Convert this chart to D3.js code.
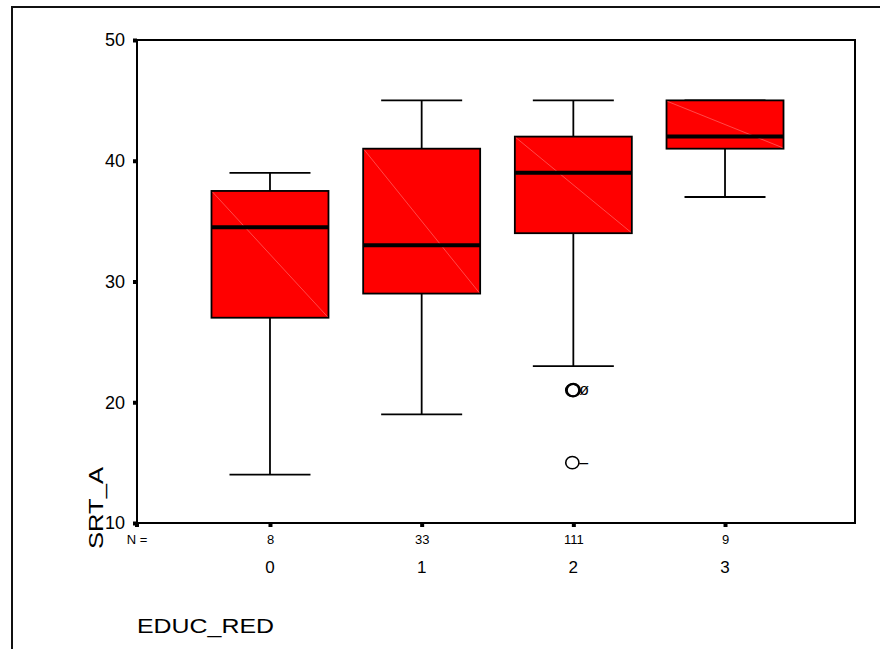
<!DOCTYPE html>
<html>
<head>
<meta charset="utf-8">
<script src="https://cdn.jsdelivr.net/npm/d3@7"></script>
<style>
  body { margin: 0; background: #fff; }
  text { font-family: "Liberation Sans", Arial, sans-serif; fill: #000; }
</style>
</head>
<body>
<div id="chart"></div>
<script>
// box plot values (SRT_A by EDUC_RED)
const categories = ["0", "1", "2", "3"];
const counts = [8, 33, 111, 9];
const whiskerLow = [14, 19, 23, 37];
const q1 = [27, 29, 34, 41];
const median = [34.5, 33, 39, 42];
const q3 = [37.5, 41, 42, 45];
const whiskerHigh = [39, 45, 45, 45];
const outlierCategory = ["2", "2", "2"];
const outlierValue = [21, 21, 15];
const outlierLabel = ["", "\u00f8", "\u2013"];
const yTicks = [10, 20, 30, 40, 50];

const width = 880, height = 649;
const plot = { left: 137, top: 40, right: 855, bottom: 523 };
const boxWidth = 117, capWidth = 81;

const svg = d3.select("#chart").append("svg")
  .attr("width", width)
  .attr("height", height);

// outer frame (runs past the page on the right and bottom)
svg.append("rect")
  .attr("x", 12).attr("y", 7)
  .attr("width", 900).attr("height", 700)
  .attr("fill", "none").attr("stroke", "#111").attr("stroke-width", 2);

const x = d3.scalePoint()
  .domain(categories)
  .range([140, plot.right])
  .padding(0.857);

const y = d3.scaleLinear()
  .domain([10, 50])
  .range([plot.bottom, plot.top]);

// y axis with square tick marks
const yAxis = svg.append("g")
  .attr("transform", `translate(${plot.left},0)`)
  .call(d3.axisLeft(y).tickValues(yTicks).tickSize(4).tickPadding(8));
yAxis.select(".domain").remove();
yAxis.selectAll("line").attr("stroke", "#000").attr("stroke-width", 4);
yAxis.selectAll("text").style("font-size", "18px").attr("font-family", null);

// x axis: N counts under square ticks
const xAxis = svg.append("g")
  .attr("transform", `translate(0,${plot.bottom})`)
  .call(d3.axisBottom(x).tickSize(4).tickPadding(8)
    .tickFormat((d, i) => counts[i]));
xAxis.select(".domain").remove();
xAxis.selectAll("line").attr("stroke", "#000").attr("stroke-width", 4);
xAxis.selectAll("text").style("font-size", "13px").attr("font-family", null);

// corner tick + "N ="
svg.append("rect")
  .attr("x", plot.left - 2).attr("y", plot.bottom)
  .attr("width", 4).attr("height", 4).attr("fill", "#000");
svg.append("text")
  .attr("x", plot.left).attr("y", 544)
  .attr("text-anchor", "middle")
  .style("font-size", "13px")
  .text("N =");

// category labels
svg.selectAll(".cat")
  .data(categories)
  .enter().append("text")
  .attr("class", "cat")
  .attr("x", d => x(d))
  .attr("y", 573)
  .attr("text-anchor", "middle")
  .style("font-size", "17px")
  .text(d => d);

// plot frame
svg.append("rect")
  .attr("x", plot.left).attr("y", plot.top)
  .attr("width", plot.right - plot.left)
  .attr("height", plot.bottom - plot.top)
  .attr("fill", "none").attr("stroke", "#000").attr("stroke-width", 2);

// boxes
const boxes = svg.selectAll(".box")
  .data(categories)
  .enter().append("g")
  .attr("class", "box");

boxes.append("line")
  .attr("x1", d => x(d)).attr("x2", d => x(d))
  .attr("y1", (d, i) => y(whiskerLow[i])).attr("y2", (d, i) => y(q1[i]))
  .attr("stroke", "#000").attr("stroke-width", 1.8);
boxes.append("line")
  .attr("x1", d => x(d)).attr("x2", d => x(d))
  .attr("y1", (d, i) => y(whiskerHigh[i])).attr("y2", (d, i) => y(q3[i]))
  .attr("stroke", "#000").attr("stroke-width", 1.8);
boxes.append("line")
  .attr("x1", d => x(d) - capWidth / 2).attr("x2", d => x(d) + capWidth / 2)
  .attr("y1", (d, i) => y(whiskerLow[i])).attr("y2", (d, i) => y(whiskerLow[i]))
  .attr("stroke", "#000").attr("stroke-width", 1.8);
boxes.append("line")
  .attr("x1", d => x(d) - capWidth / 2).attr("x2", d => x(d) + capWidth / 2)
  .attr("y1", (d, i) => y(whiskerHigh[i])).attr("y2", (d, i) => y(whiskerHigh[i]))
  .attr("stroke", "#000").attr("stroke-width", 1.8);

boxes.append("rect")
  .attr("x", d => x(d) - boxWidth / 2)
  .attr("y", (d, i) => y(q3[i]))
  .attr("width", boxWidth)
  .attr("height", (d, i) => y(q1[i]) - y(q3[i]))
  .attr("fill", "#ff0000")
  .attr("stroke", "#000").attr("stroke-width", 1.8);

// faint diagonal artifact across each box
boxes.append("line")
  .attr("x1", d => x(d) - boxWidth / 2 + 1).attr("y1", (d, i) => y(q3[i]) + 1)
  .attr("x2", d => x(d) + boxWidth / 2 - 1).attr("y2", (d, i) => y(q1[i]) - 1)
  .attr("stroke", "#ff7a7a").attr("stroke-width", 0.6);

boxes.append("line")
  .attr("x1", d => x(d) - boxWidth / 2).attr("x2", d => x(d) + boxWidth / 2)
  .attr("y1", (d, i) => y(median[i])).attr("y2", (d, i) => y(median[i]))
  .attr("stroke", "#000").attr("stroke-width", 4);

// outliers (repeated values drawn slightly offset so they look bold)
const seen = {};
outlierValue.forEach((v, i) => {
  const key = outlierCategory[i] + ":" + v;
  const k = seen[key] || 0;
  seen[key] = k + 1;
  const cx = x(outlierCategory[i]) - 1 + k;
  svg.append("ellipse")
    .attr("cx", cx).attr("cy", y(v))
    .attr("rx", 6.6).attr("ry", 6.2)
    .attr("fill", "none").attr("stroke", "#000").attr("stroke-width", k ? 2.2 : 1.6);
  if (outlierLabel[i]) {
    svg.append("text")
      .attr("x", x(outlierCategory[i]) + 6)
      .attr("y", y(v) + 5)
      .style("font-size", "16px")
      .text(outlierLabel[i]);
  }
});

// axis titles
svg.append("text")
  .attr("transform", "translate(103,549) rotate(-90)")
  .attr("textLength", 82).attr("lengthAdjust", "spacingAndGlyphs")
  .style("font-size", "21px")
  .text("SRT_A");

svg.append("text")
  .attr("x", 137).attr("y", 633)
  .attr("textLength", 137).attr("lengthAdjust", "spacingAndGlyphs")
  .style("font-size", "21px")
  .text("EDUC_RED");
</script>
</body>
</html>
